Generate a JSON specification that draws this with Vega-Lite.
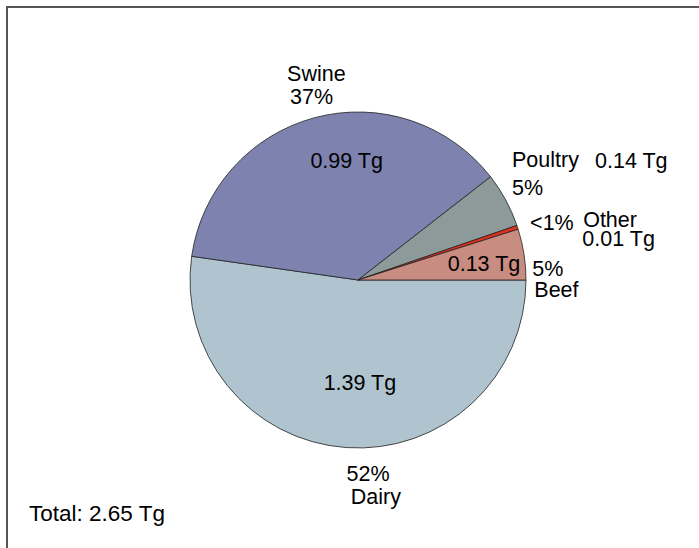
{
  "$schema": "https://vega.github.io/schema/vega-lite/v6.json",
  "width": 702,
  "height": 546,
  "autosize": {"type": "none"},
  "padding": {"left": 7, "top": 7, "right": 0, "bottom": 0},
  "background": "white",
  "view": {"stroke": "#555", "strokeWidth": 2, "fill": "white"},
  "title": {
    "text": "Total: 2.65 Tg",
    "orient": "bottom",
    "anchor": "start",
    "frame": "group",
    "offset": -50,
    "dx": 22,
    "font": "Liberation Sans",
    "fontSize": 22.5,
    "fontWeight": "normal",
    "color": "black"
  },
  "data": {
    "values": [
      {"cat": "Dairy", "value": 1.39, "pct": "52%", "amt": "1.39 Tg"},
      {"cat": "Swine", "value": 0.99, "pct": "37%", "amt": "0.99 Tg"},
      {"cat": "Poultry", "value": 0.14, "pct": "5%", "amt": "0.14 Tg"},
      {"cat": "Other", "value": 0.01, "pct": "<1%", "amt": "0.01 Tg"},
      {"cat": "Beef", "value": 0.13, "pct": "5%", "amt": "0.13 Tg"}
    ]
  },
  "transform": [{"window": [{"op": "row_number", "as": "idx"}]}],
  "encoding": {
    "theta": {"field": "value", "type": "quantitative", "stack": true, "scale": {"range": [1.5707963, 7.8539816]}},
    "order": {"field": "idx", "type": "quantitative"}
  },
  "layer": [
    {
      "mark": {"type": "arc", "outerRadius": 168, "stroke": "#222", "strokeWidth": 0.8},
      "encoding": {
        "color": {"field": "cat", "type": "nominal", "legend": null,
          "scale": {"domain": ["Dairy", "Swine", "Poultry", "Other", "Beef"],
                    "range": ["#b0c4cf", "#7e82ae", "#8c9b9a", "#e0301e", "#c88c80"]}}
      }
    },
    {"mark": {"type": "text", "radius": 120, "dx": 19.5, "dy": 4.3, "align": "center", "baseline": "alphabetic", "font": "Liberation Sans", "fontSize": 21.5, "color": "black"},
     "encoding": {"text": {"condition": {"test": "datum.cat === 'Swine'", "field": "amt"}, "value": ""}}},
    {"mark": {"type": "text", "radius": 120, "dx": 10.4, "dy": -9.7, "align": "center", "baseline": "alphabetic", "font": "Liberation Sans", "fontSize": 21.5, "color": "black"},
     "encoding": {"text": {"condition": {"test": "datum.cat === 'Dairy'", "field": "amt"}, "value": ""}}},
    {"mark": {"type": "text", "radius": 120, "dx": 7.4, "dy": 9.4, "align": "center", "baseline": "alphabetic", "font": "Liberation Sans", "fontSize": 21.5, "color": "black"},
     "encoding": {"text": {"condition": {"test": "datum.cat === 'Beef'", "field": "amt"}, "value": ""}}},
    {"mark": {"type": "text", "radius": 185, "dx": -23.4, "dy": -20.2, "align": "left", "baseline": "alphabetic", "font": "Liberation Sans", "fontSize": 21.5, "color": "black"},
     "encoding": {"text": {"condition": {"test": "datum.cat === 'Swine'", "field": "cat"}, "value": ""}}},
    {"mark": {"type": "text", "radius": 185, "dx": -20.4, "dy": 2.8, "align": "left", "baseline": "alphabetic", "font": "Liberation Sans", "fontSize": 21.5, "color": "black"},
     "encoding": {"text": {"condition": {"test": "datum.cat === 'Swine'", "field": "pct"}, "value": ""}}},
    {"mark": {"type": "text", "radius": 185, "dx": -8.7, "dy": -25.3, "align": "left", "baseline": "alphabetic", "font": "Liberation Sans", "fontSize": 21.5, "color": "black"},
     "encoding": {"text": {"condition": {"test": "datum.cat === 'Poultry'", "field": "cat"}, "value": ""}}},
    {"mark": {"type": "text", "radius": 185, "dx": -8.7, "dy": 3, "align": "left", "baseline": "alphabetic", "font": "Liberation Sans", "fontSize": 21.5, "color": "black"},
     "encoding": {"text": {"condition": {"test": "datum.cat === 'Poultry'", "field": "pct"}, "value": ""}}},
    {"mark": {"type": "text", "radius": 185, "dx": 74.3, "dy": -23.7, "align": "left", "baseline": "alphabetic", "font": "Liberation Sans", "fontSize": 21.5, "color": "black"},
     "encoding": {"text": {"condition": {"test": "datum.cat === 'Poultry'", "field": "amt"}, "value": ""}}},
    {"mark": {"type": "text", "radius": 185, "dx": -3.6, "dy": 8.1, "align": "left", "baseline": "alphabetic", "font": "Liberation Sans", "fontSize": 21.5, "color": "black"},
     "encoding": {"text": {"condition": {"test": "datum.cat === 'Other'", "field": "pct"}, "value": ""}}},
    {"mark": {"type": "text", "radius": 185, "dx": 49.5, "dy": 4.6, "align": "left", "baseline": "alphabetic", "font": "Liberation Sans", "fontSize": 21.5, "color": "black"},
     "encoding": {"text": {"condition": {"test": "datum.cat === 'Other'", "field": "cat"}, "value": ""}}},
    {"mark": {"type": "text", "radius": 185, "dx": 48.7, "dy": 23.6, "align": "left", "baseline": "alphabetic", "font": "Liberation Sans", "fontSize": 21.5, "color": "black"},
     "encoding": {"text": {"condition": {"test": "datum.cat === 'Other'", "field": "amt"}, "value": ""}}},
    {"mark": {"type": "text", "radius": 185, "dx": -8.5, "dy": 24, "align": "left", "baseline": "alphabetic", "font": "Liberation Sans", "fontSize": 21.5, "color": "black"},
     "encoding": {"text": {"condition": {"test": "datum.cat === 'Beef'", "field": "pct"}, "value": ""}}},
    {"mark": {"type": "text", "radius": 185, "dx": -6.5, "dy": 45.5, "align": "left", "baseline": "alphabetic", "font": "Liberation Sans", "fontSize": 21.5, "color": "black"},
     "encoding": {"text": {"condition": {"test": "datum.cat === 'Beef'", "field": "cat"}, "value": ""}}},
    {"mark": {"type": "text", "radius": 185, "dx": 1.6, "dy": 16.7, "align": "left", "baseline": "alphabetic", "font": "Liberation Sans", "fontSize": 21.5, "color": "black"},
     "encoding": {"text": {"condition": {"test": "datum.cat === 'Dairy'", "field": "pct"}, "value": ""}}},
    {"mark": {"type": "text", "radius": 185, "dx": 5.9, "dy": 39.2, "align": "left", "baseline": "alphabetic", "font": "Liberation Sans", "fontSize": 21.5, "color": "black"},
     "encoding": {"text": {"condition": {"test": "datum.cat === 'Dairy'", "field": "cat"}, "value": ""}}}
  ]
}
